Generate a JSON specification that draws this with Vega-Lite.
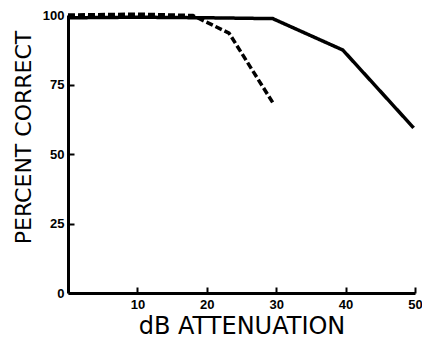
{
  "$schema": "https://vega.github.io/schema/vega-lite/v6.json",
  "autosize": "none",
  "width": 347,
  "height": 278,
  "padding": {"left": 68, "top": 15, "right": 7, "bottom": 46},
  "background": "white",
  "config": {
    "view": {"stroke": null},
    "axis": {"grid": false, "domainColor": "black", "tickColor": "black", "labelColor": "black", "titleColor": "black", "labelFont": "Liberation Sans", "titleFont": "DejaVu Sans"}
  },
  "data": {"values": [
    {"db": 0, "pct": 99, "cond": "A"},
    {"db": 10, "pct": 99.2, "cond": "A"},
    {"db": 20, "pct": 99, "cond": "A"},
    {"db": 29.5, "pct": 98.7, "cond": "A"},
    {"db": 39.6, "pct": 87.4, "cond": "A"},
    {"db": 49.8, "pct": 59.4, "cond": "A"},
    {"db": 0, "pct": 100, "cond": "B"},
    {"db": 10, "pct": 100.3, "cond": "B"},
    {"db": 18, "pct": 99.8, "cond": "B"},
    {"db": 23.2, "pct": 93.5, "cond": "B"},
    {"db": 29.5, "pct": 68.5, "cond": "B"}
  ]},
  "mark": {"type": "line", "color": "black", "strokeWidth": 3.5, "clip": false},
  "encoding": {
    "x": {"field": "db", "type": "quantitative", "scale": {"domain": [0, 50], "nice": false, "zero": false},
      "axis": {"values": [10, 20, 30, 40, 50], "title": "dB ATTENUATION", "titleFontSize": 24, "titleFontWeight": "normal", "titlePadding": 3, "labelFontSize": 13, "labelFontWeight": "bold", "domainWidth": 3, "tickWidth": 2, "tickSize": -6, "labelPadding": 11, "labelOverlap": false, "labelFlush": false}},
    "y": {"field": "pct", "type": "quantitative", "scale": {"domain": [0, 100], "nice": false},
      "axis": {"values": [0, 25, 50, 75, 100], "title": "PERCENT CORRECT", "titleFontSize": 22, "titleFontWeight": "normal", "titleX": -33, "titleY": 122, "titleAngle": -90, "titleBaseline": "bottom", "labelFontSize": 13, "labelFontWeight": "bold", "domainWidth": 3, "tickWidth": 2, "tickSize": -6, "labelPadding": 10}},
    "strokeDash": {"field": "cond", "type": "nominal", "scale": {"domain": ["A", "B"], "range": [[1, 0], [7, 3]]}, "legend": null}
  }
}
